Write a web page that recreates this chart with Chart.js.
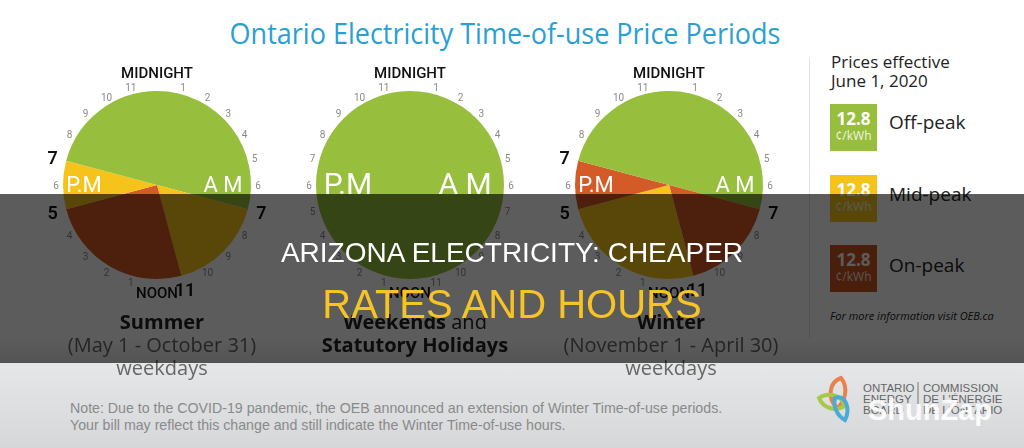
<!DOCTYPE html>
<html>
<head>
<meta charset="utf-8">
<script src="https://cdn.jsdelivr.net/npm/chart.js@4.4.0/dist/chart.umd.min.js"></script>
<style>
  html,body{margin:0;padding:0;}
  body{width:1024px;height:448px;overflow:hidden;position:relative;
    background:linear-gradient(to bottom,#fff 0,#fff 340px,#e6e7e8 362px,#d5d7d9 448px);
    font-family:"Open Sans",sans-serif;}
  .abs{position:absolute;}
  #title{left:0;width:1010px;top:12px;text-align:center;font-size:30px;color:#2a9fd4;white-space:nowrap;}
  #title span{display:inline-block;transform:scaleX(0.9);transform-origin:center;}
  canvas{position:absolute;}
  .cap{text-align:center;width:260px;line-height:23px;font-size:20px;color:#222;}
  .cap .b{font-weight:700;}
  .cap .g{color:#666;}
  #divider{left:809px;top:58px;width:1px;height:280px;background:#e3e3e3;}
  .legbox{left:830px;width:47px;height:47px;color:#fff;text-align:center;}
  .legbox .v{font-weight:700;font-size:17px;line-height:20px;padding-top:5px;}
  .legbox .u{font-size:12px;line-height:14px;opacity:0.85;}
  .legtxt{left:889px;font-size:19px;color:#222;}
  #overlay{left:0;top:194px;width:1024px;height:169px;background:rgba(0,0,0,0.64);}
  .hl{left:0;width:1024px;text-align:center;font-family:"Liberation Sans",Arial,sans-serif;white-space:nowrap;}
  #note{left:70px;top:400px;font-family:"Liberation Sans",Arial,sans-serif;font-size:14.2px;line-height:17px;color:#8a8a8a;}
  #logo{left:815px;top:372px;}
  #wm{left:868px;top:394px;font-family:"Liberation Sans",Arial,sans-serif;font-weight:700;font-size:29px;color:rgba(255,255,255,0.92);}
</style>
</head>
<body>
<div id="title" class="abs"><span>Ontario Electricity Time-of-use Price Periods</span></div>

<canvas id="summer" width="260" height="260" style="left:27px;top:55px"></canvas>
<canvas id="weekend" width="260" height="260" style="left:280px;top:55px"></canvas>
<canvas id="winter" width="260" height="260" style="left:539px;top:55px"></canvas>

<div class="abs cap" style="left:32px;top:310px"><span class="b">Summer</span><br><span class="g">(May 1 - October 31)</span><br><span class="g">weekdays</span></div>
<div class="abs cap" style="left:285px;top:310px"><span class="b">Weekends</span> and<br><span class="b">Statutory Holidays</span></div>
<div class="abs cap" style="left:541px;top:310px"><span class="b">Winter</span><br><span class="g">(November 1 - April 30)</span><br><span class="g">weekdays</span></div>

<div id="divider" class="abs"></div>
<div class="abs" style="left:831px;top:52px;font-size:17px;line-height:19px;color:#222;">Prices effective<br>June 1, 2020</div>
<div class="abs legbox" style="top:104px;background:#97be3c"><div class="v">12.8</div><div class="u">¢/kWh</div></div>
<div class="abs legtxt" style="top:109px">Off-peak</div>
<div class="abs legbox" style="top:175px;background:#f6c31b"><div class="v">12.8</div><div class="u">¢/kWh</div></div>
<div class="abs legtxt" style="top:181px">Mid-peak</div>
<div class="abs legbox" style="top:245px;background:#c9531f"><div class="v">12.8</div><div class="u">¢/kWh</div></div>
<div class="abs legtxt" style="top:252px">On-peak</div>
<div class="abs" style="left:830px;top:308px;font-size:11px;font-style:italic;color:#222;">For more information visit OEB.ca</div>

<div id="note" class="abs">Note: Due to the COVID-19 pandemic, the OEB announced an extension of Winter Time-of-use periods.<br>Your bill may reflect this change and still indicate the Winter Time-of-use hours.</div>

<svg id="logo" class="abs" width="200" height="56" viewBox="0 0 200 56">
  <g fill="none" stroke-width="4" stroke-linecap="round">
    <path d="M26 6 C14 10 12 26 22 36 C30 30 34 16 26 6Z" stroke="#e8824a"/>
    <path d="M4 26 C12 20 26 22 30 34 C20 40 8 36 4 26Z" stroke="#a8c84a"/>
    <path d="M20 26 C30 22 36 36 30 48 C22 44 18 34 20 26Z" stroke="#4aaad8"/>
  </g>
  <g font-family="Liberation Sans, Arial, sans-serif" font-size="11.5" fill="#666">
    <text x="48" y="20">ONTARIO</text><text x="48" y="31">ENERGY</text><text x="48" y="42">BOARD</text>
    <text x="108" y="20">COMMISSION</text><text x="108" y="31">DE L'ÉNERGIE</text><text x="108" y="42">DE L'ONTARIO</text>
  </g>
  <line x1="103" y1="10" x2="103" y2="40" stroke="#777" stroke-width="1"/>
</svg>
<div id="wm" class="abs">ShunZap</div>

<div id="overlay" class="abs"></div>
<div class="abs hl" style="top:237px;font-size:28px;color:#fff;">ARIZONA ELECTRICITY: CHEAPER</div>
<div class="abs hl" style="top:282px;font-size:40px;color:#f7c325;">RATES AND HOURS</div>

<script>
// hours of the day, clockwise from midnight
const periodLabels = ['Midnight-7', '7-11', '11-17', '17-19', '19-Midnight'];
const periodHours = [7, 4, 6, 2, 5];
const summerPeriods = ['Off-peak', 'Mid-peak', 'On-peak', 'Mid-peak', 'Off-peak'];
const winterPeriods = ['Off-peak', 'On-peak', 'Mid-peak', 'On-peak', 'Off-peak'];
const weekendLabels = ['All day'];
const weekendHours = [24];
const weekendPeriods = ['Off-peak'];
const changeHours = [7, 11, 17, 19];

const priceColors = {'Off-peak': '#97be3c', 'Mid-peak': '#f6c31b', 'On-peak': '#d45a27'};

// draws the clock face: hour numbers, MIDNIGHT / NOON, P.M / A M
const clockFace = {
  id: 'clockFace',
  afterDatasetsDraw(chart, args, opts) {
    const arc = chart.getDatasetMeta(0).data[0];
    if (!arc) return;
    const ctx = chart.ctx, cx = arc.x, cy = arc.y, r = arc.outerRadius;
    const bold = opts.bold || [];
    ctx.save();
    ctx.textAlign = 'center'; ctx.textBaseline = 'middle';
    for (let h = 1; h < 24; h++) {
      if (h === 12) continue;
      const a = h * Math.PI / 12;
      const big = bold.includes(h);
      const R = big ? r + 14 : r + 7;
      ctx.font = big ? '600 18px Roboto' : '10px Roboto';
      ctx.fillStyle = big ? '#111' : '#8a8a8a';
      ctx.fillText(String(h % 12), cx + R * Math.sin(a), cy - R * Math.cos(a) + (big ? 2 : 1));
    }
    ctx.fillStyle = '#111';
    ctx.font = '500 15px Roboto';
    ctx.fillText('MIDNIGHT', cx, cy - r - 17);
    ctx.fillText('NOON', cx, cy + r + 15);
    ctx.fillStyle = '#fff';
    ctx.font = (opts.big ? '30px' : '22px') + ' Roboto';
    ctx.fillText('P.M', cx - (opts.big ? 62 : 73), cy + 1);
    ctx.fillText('A M', cx + (opts.big ? 55 : 66), cy + 1);
    ctx.restore();
  }
};

function makeClock(id, labels, hours, periods, bold, big) {
  return new Chart(document.getElementById(id), {
    type: 'pie',
    data: {
      labels,
      datasets: [{
        data: hours,
        backgroundColor: periods.map(p => priceColors[p]),
        borderWidth: 0
      }]
    },
    options: {
      responsive: false,
      animation: false,
      rotation: 0,
      layout: {padding: 36},
      plugins: {
        legend: {display: false},
        tooltip: {enabled: false},
        clockFace: {bold, big}
      }
    },
    plugins: [clockFace]
  });
}

makeClock('summer', periodLabels, periodHours, summerPeriods, changeHours, false);
makeClock('weekend', weekendLabels, weekendHours, weekendPeriods, [], true);
makeClock('winter', periodLabels, periodHours, winterPeriods, changeHours, false);
</script>
</body>
</html>
